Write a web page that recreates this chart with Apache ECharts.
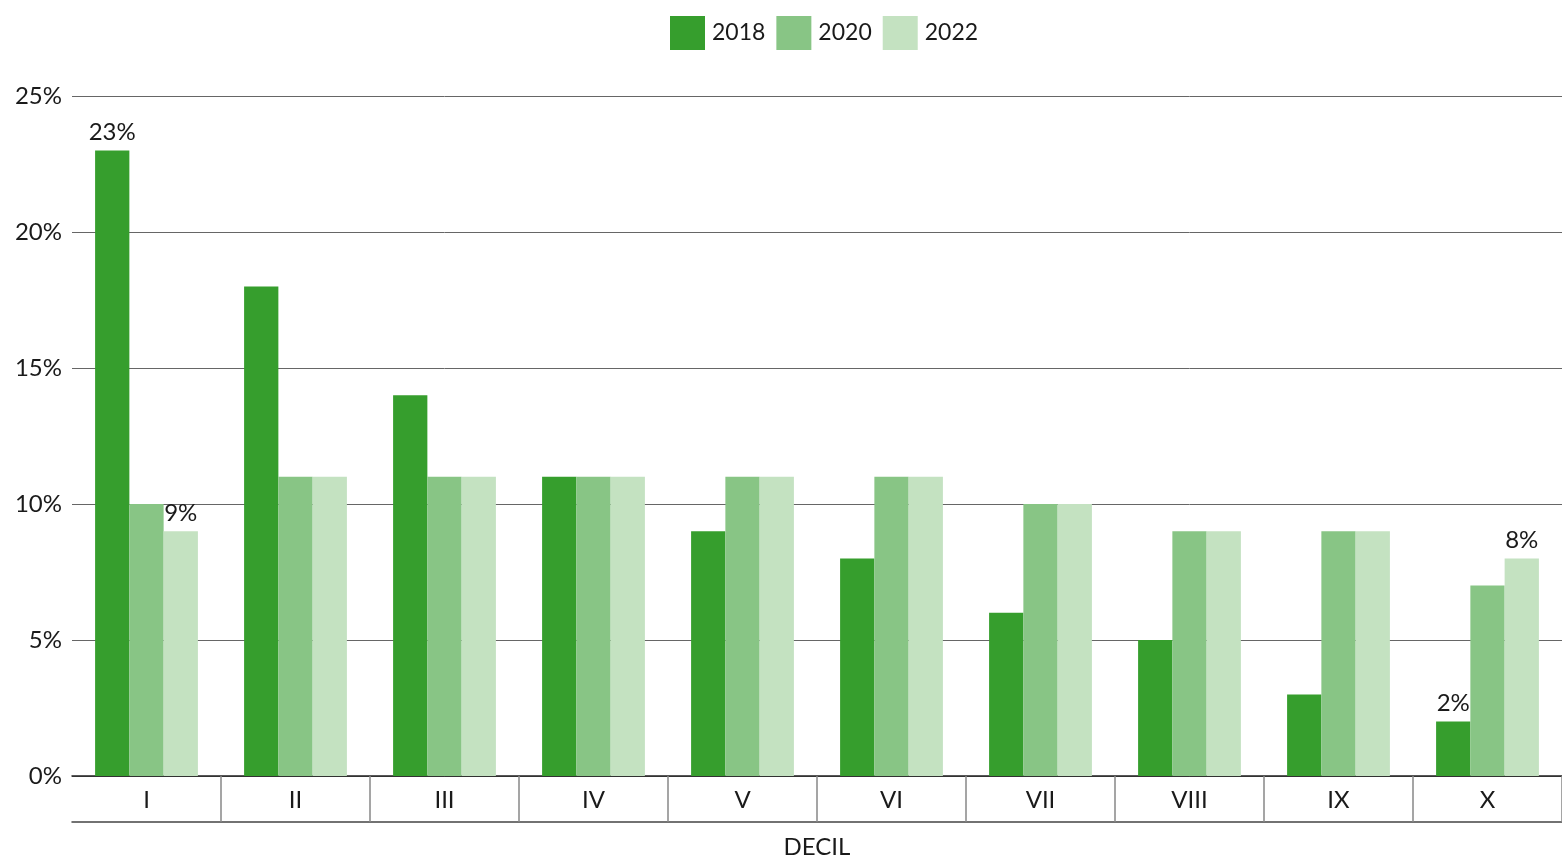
<!DOCTYPE html>
<html>
<head>
<meta charset="utf-8">
<script src="https://cdn.jsdelivr.net/npm/echarts@6/dist/echarts.min.js"></script>
<style>
html,body{margin:0;padding:0;background:#fff;}
#chart{width:1562px;height:861px;}
</style>
</head>
<body>
<div id="chart"></div>
<script>
const categories = ['I','II','III','IV','V','VI','VII','VIII','IX','X'];
const seriesNames = ['2018','2020','2022'];
const values2018 = [23,18,14,11,9,8,6,5,3,2];
const values2020 = [10,11,11,11,11,11,10,9,9,7];
const values2022 = [9,11,11,11,11,11,10,9,9,8];
// which points carry a visible label: [seriesIndex, categoryIndex]
const labelled = [[0,0],[2,0],[0,9],[2,9]];
const colors = ['#369e2d','#88c585','#c4e2c1'];

const FONT = 'Lato, "Open Sans", sans-serif';
const allValues = [values2018, values2020, values2022];

function makeData(si){
  return allValues[si].map((v,ci)=>{
    const show = labelled.some(p=>p[0]===si && p[1]===ci);
    return show ? {value:v, label:{show:true}} : v;
  });
}

const chart = echarts.init(document.getElementById('chart'));
chart.setOption({
  animation:false,
  textStyle:{fontFamily:FONT},
  legend:{
    top:11, left:665,
    icon:'rect',
    itemWidth:35, itemHeight:34, itemGap:11,
    textStyle:{fontSize:23, color:'#1a1a1a', fontFamily:FONT, padding:[0,0,0,2]},
    data:seriesNames
  },
  grid:{left:72, right:0, top:96, bottom:85, containLabel:false, outerBoundsMode:'none'},
  xAxis:[{
    type:'category',
    data:categories,
    boundaryGap:true,
    axisLine:{show:true, lineStyle:{color:'#222', width:1.5}},
    axisTick:{show:true, length:46, lineStyle:{color:'#888', width:1.5},
      interval:function(i){return i !== 0;}},
    axisLabel:{fontSize:24, color:'#1a1a1a', margin:12, fontFamily:FONT},
    name:'DECIL', nameLocation:'middle', nameGap:59,
    nameTextStyle:{fontSize:24, color:'#1a1a1a', fontFamily:FONT},
    splitLine:{show:false}
  },{
    type:'category',
    data:categories,
    position:'bottom',
    offset:46,
    axisLine:{show:true, lineStyle:{color:'#444', width:1.5}},
    axisTick:{show:false},
    axisLabel:{show:false},
    splitLine:{show:false}
  }],
  yAxis:{
    type:'value',
    min:0, max:25, interval:5,
    axisLine:{show:false},
    axisTick:{show:false},
    axisLabel:{fontSize:24, color:'#1a1a1a', margin:10, formatter:'{value}%', fontFamily:FONT},
    splitLine:{show:true, lineStyle:{color:'#666', width:1}}
  },
  series:seriesNames.map((n,si)=>({
    name:n,
    type:'bar',
    xAxisIndex:0,
    data:makeData(si),
    itemStyle:{color:colors[si]},
    barGap:'0%',
    barCategoryGap:'31%',
    label:{show:false, position:'top', distance:6, fontSize:24, color:'#1a1a1a', formatter:'{c}%', fontFamily:FONT}
  }))
});
</script>
</body>
</html>
